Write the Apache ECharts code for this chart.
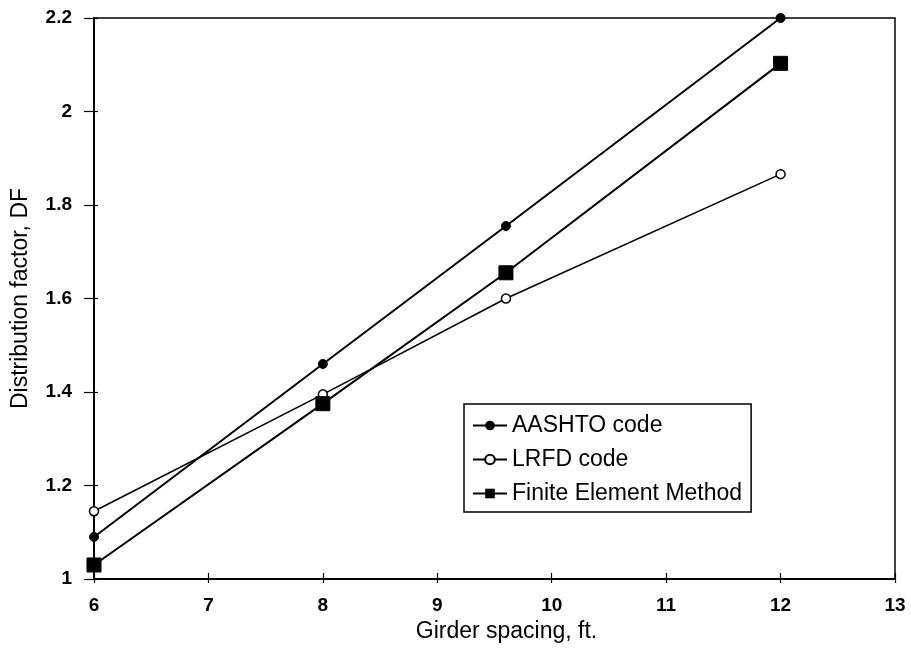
<!DOCTYPE html>
<html>
<head>
<meta charset="utf-8">
<script src="https://cdn.jsdelivr.net/npm/echarts@6/dist/echarts.min.js"></script>
<style>html,body{margin:0;padding:0;background:#fff}#c{width:911px;height:653px}</style>
</head>
<body>
<div id="c"></div>
<script>
var girderSpacing = [6, 8, 9.6, 12];
var aashto = [1.09, 1.46, 1.755, 2.2];
var lrfd = [1.145, 1.395, 1.6, 1.866];
var fem = [1.03, 1.375, 1.655, 2.103];
var seriesNames = ['AASHTO code', 'LRFD code', 'Finite Element Method'];

function pairs(ys) { return girderSpacing.map(function (x, i) { return [x, ys[i]]; }); }

var FONT = 'Liberation Sans, Arial, sans-serif';
var chart = echarts.init(document.getElementById('c'), null, { renderer: 'canvas' });

var baseX = { type: 'value', min: 6, max: 13, interval: 1 };
var baseY = { type: 'value', min: 1, max: 2.2, interval: 0.2 };

chart.setOption({
  animation: false,
  backgroundColor: '#fff',
  grid: { left: 94, right: 16, top: 18, bottom: 74, show: true, borderColor: '#000', borderWidth: 1.5, backgroundColor: 'transparent' },
  xAxis: [
    Object.assign({}, baseX, {
      name: 'Girder spacing, ft.', nameLocation: 'middle', nameGap: 36,
      nameTextStyle: { fontFamily: FONT, fontSize: 23, color: '#000', padding: [0, 0, 0, 24] },
      axisLine: { show: true, lineStyle: { color: '#000', width: 2 } },
      axisTick: { show: true, inside: false, length: 4, lineStyle: { color: '#000', width: 1.2 } },
      axisLabel: { margin: 17, fontFamily: FONT, fontSize: 19, fontWeight: 'bold', color: '#000' },
      splitLine: { show: false }
    }),
    Object.assign({}, baseX, {
      position: 'bottom',
      axisLine: { show: false },
      axisTick: { show: true, inside: true, length: 6, lineStyle: { color: '#000', width: 1.2 } },
      axisLabel: { show: false }, splitLine: { show: false }
    })
  ],
  yAxis: [
    Object.assign({}, baseY, {
      name: 'Distribution factor, DF', nameLocation: 'middle', nameGap: 62, nameRotate: 90,
      nameTextStyle: { fontFamily: FONT, fontSize: 23, color: '#000' },
      axisLine: { show: true, lineStyle: { color: '#000', width: 2 } },
      axisTick: { show: true, inside: false, length: 10, lineStyle: { color: '#000', width: 1.2 } },
      axisLabel: { margin: 22, fontFamily: FONT, fontSize: 19, fontWeight: 'bold', color: '#000',
        formatter: function (v) { return String(Math.round(v * 10) / 10); } },
      splitLine: { show: false }
    }),
    Object.assign({}, baseY, {
      position: 'left',
      axisLine: { show: false },
      axisTick: { show: true, inside: true, length: 4, lineStyle: { color: '#000', width: 1.2 } },
      axisLabel: { show: false }, splitLine: { show: false }
    })
  ],
  legend: {
    orient: 'vertical', left: 464, top: 404,
    backgroundColor: '#fff', borderColor: '#000', borderWidth: 1.5,
    padding: [10, 9, 7, 8],
    itemWidth: 34, itemHeight: 12, itemGap: 11, itemStyle: {},
    textStyle: { fontFamily: FONT, fontSize: 23, color: '#000', lineHeight: 22 },
    data: seriesNames
  },
  series: [
    { name: seriesNames[0], type: 'line', data: pairs(aashto), symbol: 'circle', symbolSize: 9,
      lineStyle: { color: '#000', width: 2 }, itemStyle: { color: '#000', borderColor: '#000' } },
    { name: seriesNames[1], type: 'line', data: pairs(lrfd), symbol: 'circle', symbolSize: 9,
      lineStyle: { color: '#000', width: 1.6 }, itemStyle: { color: '#fff', borderColor: '#000', borderWidth: 1.5 } },
    { name: seriesNames[2], type: 'line', data: pairs(fem), symbol: 'rect', symbolSize: 14,
      lineStyle: { color: '#000', width: 2 }, itemStyle: { color: '#000', borderColor: '#000' } }
  ]
});
</script>
</body>
</html>
